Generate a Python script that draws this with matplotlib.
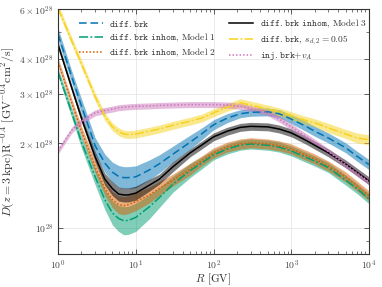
import numpy as np
import matplotlib
matplotlib.use("Agg")
import matplotlib.pyplot as plt
from matplotlib.ticker import NullFormatter, FixedLocator

plt.rcParams['font.family'] = ['cmr10', 'DejaVu Serif']
plt.rcParams['mathtext.fontset'] = 'cm'
plt.rcParams['axes.formatter.use_mathtext'] = True

# Rigidity grid [GV]
R = [1, 1.5, 2, 3, 4, 5, 6, 7, 8, 10, 15, 20, 30, 50, 70, 100, 150, 220,
     300, 500, 700, 1000, 1500, 2000, 3000, 5000, 7000, 10000]

# D(z=3kpc) R^-0.4 in units of 1e28
diff_brk = [4.90, 3.45, 2.72, 1.96, 1.70, 1.58, 1.525, 1.51, 1.51, 1.52, 1.61, 1.69, 1.83,
            2.02, 2.16, 2.33, 2.46, 2.55, 2.58, 2.59, 2.55, 2.44, 2.31, 2.21, 2.09, 1.93, 1.80, 1.68]
inhom_m1 = [3.59, 2.57, 2.02, 1.52, 1.26, 1.13, 1.08, 1.06, 1.063, 1.09, 1.19, 1.28, 1.43,
            1.60, 1.70, 1.82, 1.91, 1.97, 1.99, 1.97, 1.94, 1.88, 1.79, 1.73, 1.64, 1.48, 1.38, 1.27]
inhom_m2 = [3.90, 2.79, 2.21, 1.65, 1.38, 1.26, 1.21, 1.20, 1.21, 1.24, 1.31, 1.38, 1.48,
            1.62, 1.73, 1.85, 1.94, 1.99, 2.01, 1.99, 1.96, 1.91, 1.82, 1.76, 1.66, 1.52, 1.41, 1.30]
inhom_m3 = [4.49, 3.15, 2.46, 1.79, 1.49, 1.38, 1.32, 1.31, 1.31, 1.33, 1.42, 1.49, 1.65,
            1.85, 1.97, 2.11, 2.21, 2.28, 2.30, 2.29, 2.25, 2.18, 2.06, 1.97, 1.85, 1.69, 1.58, 1.47]
brk_sd005 = [6.07, 4.63, 3.84, 2.93, 2.49, 2.29, 2.20, 2.16, 2.15, 2.16, 2.21, 2.25, 2.32,
             2.40, 2.46, 2.57, 2.69, 2.79, 2.74, 2.65, 2.59, 2.51, 2.42, 2.37, 2.27, 2.16, 2.09, 2.06]
inj_brk_va = [1.88, 2.23, 2.40, 2.57, 2.62, 2.65, 2.68, 2.69, 2.70, 2.71, 2.72, 2.73, 2.74,
              2.75, 2.75, 2.75, 2.74, 2.71, 2.66, 2.57, 2.44, 2.29, 2.13, 2.02, 1.87, 1.68, 1.57, 1.46]

# relative half-widths of the uncertainty bands
err_brk = [0.05, 0.05, 0.059, 0.068, 0.077, 0.085, 0.094, 0.094, 0.094, 0.094, 0.085, 0.077, 0.068,
           0.059, 0.05, 0.042, 0.038, 0.033, 0.033, 0.033, 0.033, 0.038, 0.042, 0.042, 0.042, 0.042, 0.042, 0.042]
err_m1 = [0.033, 0.042, 0.05, 0.068, 0.085, 0.103, 0.112, 0.122, 0.122, 0.122, 0.103, 0.085, 0.068,
          0.059, 0.05, 0.042, 0.042, 0.042, 0.042, 0.042, 0.042, 0.042, 0.042, 0.042, 0.042, 0.042, 0.042, 0.042]
err_m2 = [0.033, 0.033, 0.042, 0.05, 0.059, 0.068, 0.077, 0.077, 0.077, 0.077, 0.068, 0.059, 0.05,
          0.05, 0.042, 0.042, 0.042, 0.042, 0.042, 0.042, 0.042, 0.042, 0.042, 0.042, 0.042, 0.042, 0.042, 0.042]
err_m3 = [0.025, 0.025, 0.033, 0.042, 0.05, 0.059, 0.059, 0.059, 0.059, 0.059, 0.05, 0.042, 0.042,
          0.033, 0.033, 0.033, 0.033, 0.033, 0.033, 0.033, 0.033, 0.033, 0.033, 0.033, 0.033, 0.033, 0.033, 0.033]
err_sd = [0.033] * 24 + [0.038, 0.038, 0.042, 0.042]
err_va = [0.025] * 28

series = [
    (diff_brk, err_brk, '#0173B2', (0, (5, 2.5)), r'$\mathtt{diff.brk}$'),
    (inhom_m1, err_m1, '#029E73', (0, (6, 1.5, 1.2, 1.5)), r'$\mathtt{diff.brk\ inhom}$, Model 1'),
    (inhom_m2, err_m2, '#D55E00', (0, (1, 1.3)), r'$\mathtt{diff.brk\ inhom}$, Model 2'),
    (inhom_m3, err_m3, 'black', '-', r'$\mathtt{diff.brk\ inhom}$, Model 3'),
    (brk_sd005, err_sd, '#F7D21E', (0, (6, 1.5, 1.2, 1.5)), r'$\mathtt{diff.brk}$, $s_{d,2}=0.05$'),
    (inj_brk_va, err_va, '#CC78BC', (0, (1, 1.3)), r'$\mathtt{inj.brk}$+$v_A$'),
]

fig = plt.figure(figsize=(3.82, 2.87), dpi=100)
ax = fig.add_axes([0.152, 0.115, 0.814, 0.852])

Rv = np.array(R)
for vals, err, col, ls, lab in series:
    d = np.array(vals) * 1e28
    e = np.array(err)
    ax.fill_between(Rv, d / (1 + e), d * (1 + e), color=col, alpha=0.5, lw=0)
    ax.plot(Rv, d, color=col, ls=ls, lw=1.1, label=lab)

ax.set_xscale('log')
ax.set_yscale('log')
ax.set_xlim(1, 1e4)
ax.set_ylim(8.07e27, 6e28)

ax.set_yticks([1e28, 2e28, 3e28, 4e28, 6e28])
ax.set_yticklabels([r'$10^{28}$', r'$2\times10^{28}$', r'$3\times10^{28}$',
                    r'$4\times10^{28}$', r'$6\times10^{28}$'])
ax.yaxis.set_minor_locator(FixedLocator([9e27, 5e28]))
ax.yaxis.set_minor_formatter(NullFormatter())

ax.tick_params(which='both', direction='in', top=True, right=True, labelsize=7,
               colors='#444444')
ax.tick_params(which='major', length=3.5, width=0.6)
ax.tick_params(which='minor', length=2, width=0.5)
for s in ax.spines.values():
    s.set_color('#333333')
    s.set_linewidth(0.8)

ax.grid(True, which='major', color='#e6e6e6', lw=0.6)
ax.set_axisbelow(True)

ax.set_xlabel(r'$R$ [GV]', fontsize=8, color='#333333', labelpad=-1)
ax.set_ylabel(r'$D(z=3\,\mathrm{kpc})\mathrm{R}^{-0.4}\ [\mathrm{GV}^{-0.4}\mathrm{cm}^2/\mathrm{s}]$',
              fontsize=8.6, color='#333333', labelpad=1)

ax.legend(ncol=2, frameon=False, fontsize=6.8, loc='upper left',
          bbox_to_anchor=(0.04, 1.0), handlelength=2.5, handletextpad=0.7,
          columnspacing=1.4, labelspacing=0.3, labelcolor='#333333')

fig.savefig('out.png', dpi=100)
